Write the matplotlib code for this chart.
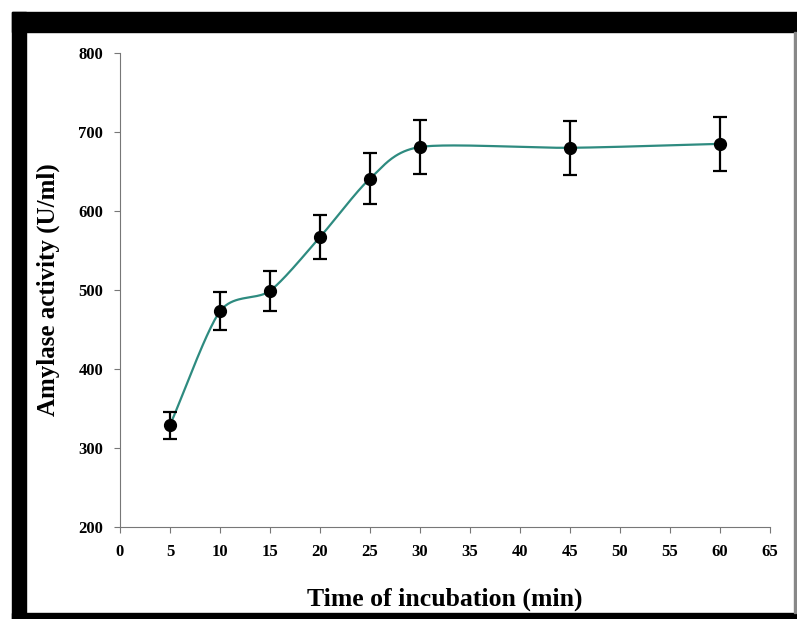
import numpy as np
import matplotlib.pyplot as plt
from matplotlib.patches import Rectangle

# data
time_min = [5, 10, 15, 20, 25, 30, 45, 60]
activity = [329, 473, 499, 567, 641, 681, 680, 685]
err = [17, 24, 25, 28, 32, 34, 34, 34]

x_ticks = list(range(0, 70, 5))
y_ticks = list(range(200, 900, 100))


def smooth_curve(x, y, n=40, tension=0.4):
    # cardinal spline through the points, like the excel smoothed line
    x = np.asarray(x, float)
    y = np.asarray(y, float)
    px = np.concatenate([[2 * x[0] - x[1]], x, [2 * x[-1] - x[-2]]])
    py = np.concatenate([[2 * y[0] - y[1]], y, [2 * y[-1] - y[-2]]])
    xs, ys = [], []
    t = np.linspace(0, 1, n)
    h00 = 2 * t ** 3 - 3 * t ** 2 + 1
    h10 = t ** 3 - 2 * t ** 2 + t
    h01 = -2 * t ** 3 + 3 * t ** 2
    h11 = t ** 3 - t ** 2
    for i in range(1, len(px) - 2):
        for p, out in ((px, xs), (py, ys)):
            m1 = tension * (p[i + 1] - p[i - 1])
            m2 = tension * (p[i + 2] - p[i])
            out.extend(h00 * p[i] + h10 * m1 + h01 * p[i + 1] + h11 * m2)
    return np.array(xs), np.array(ys)


plt.rcParams['font.family'] = ['Liberation Serif', 'DejaVu Serif']
plt.rcParams['font.weight'] = 'bold'

fig = plt.figure(figsize=(7.97, 6.19), dpi=100)

# black frame of the scanned figure
W, H = 797, 619
fig.patches.append(Rectangle((12 / W, 1 - 32 / H), 1 - 12 / W, 20 / H,
                             transform=fig.transFigure, color='black', zorder=0))
fig.patches.append(Rectangle((12 / W, 0), 14 / W, 1 - 12 / H,
                             transform=fig.transFigure, color='black', zorder=0))
fig.patches.append(Rectangle((12 / W, 0), 1 - 12 / W, 6 / H,
                             transform=fig.transFigure, color='black', zorder=0))
fig.patches.append(Rectangle((794 / W, 6 / H), 1.5 / W, 1 - 38 / H,
                             transform=fig.transFigure, color='#888888', zorder=0))

ax = fig.add_axes([120 / W, 1 - 527 / H, 650 / W, 474 / H])

sx, sy = smooth_curve(time_min, activity)
ax.plot(sx, sy, color='#2e8b80', lw=1.6, zorder=2)
ax.errorbar(time_min, activity, yerr=err, fmt='o', color='black', ms=8.5,
            ecolor='black', elinewidth=1.6, capsize=4.8, capthick=1.6, zorder=3)

ax.set_xlim(0, 65)
ax.set_ylim(200, 800)
ax.set_xticks(x_ticks)
ax.set_yticks(y_ticks)
ax.tick_params(axis='both', direction='out', length=4, width=0.8,
               color='#777777', labelsize=12, pad=8)
for lab in ax.get_xticklabels() + ax.get_yticklabels():
    lab.set_fontweight('bold')

for s in ['top', 'right']:
    ax.spines[s].set_visible(False)
for s in ['left', 'bottom']:
    ax.spines[s].set_color('#777777')
    ax.spines[s].set_linewidth(0.8)

ax.set_xlabel('Time of incubation (min)', fontsize=18.5, fontweight='bold', labelpad=20)
ax.set_ylabel('Amylase activity (U/ml)', fontsize=18, fontweight='bold', labelpad=13)

plt.savefig('out.png', dpi=100, facecolor='white')
